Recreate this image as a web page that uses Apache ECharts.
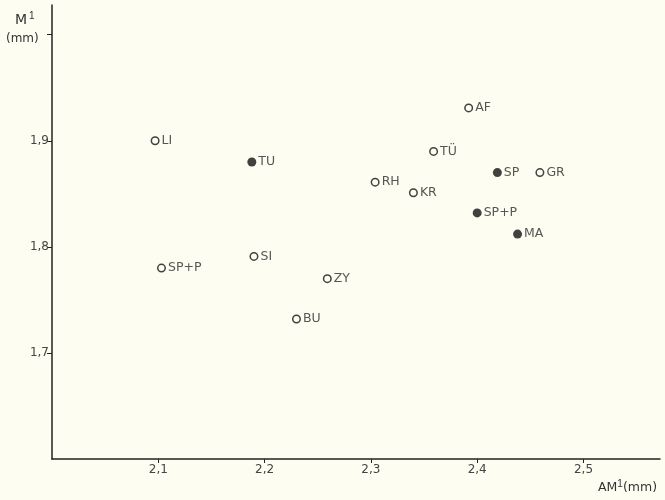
<!DOCTYPE html>
<html><head><meta charset="utf-8">
<script src="https://cdn.jsdelivr.net/npm/echarts@6/dist/echarts.min.js"></script>
<style>html,body{margin:0;padding:0;background:#fdfdf2;}#c{width:665px;height:500px;}</style>
</head><body><div id="c"></div>
<script>
const names = ['AF','LI','TU','TÜ','RH','SP','GR','KR','SP+P','MA','SI','SP+P','ZY','BU'];
const am1 = [2.392,2.097,2.188,2.359,2.304,2.419,2.459,2.340,2.400,2.438,2.190,2.103,2.259,2.230];
const m1  = [1.931,1.900,1.880,1.890,1.861,1.870,1.870,1.851,1.832,1.812,1.791,1.780,1.770,1.732];
const filled = [0,0,1,0,0,1,0,0,1,1,0,0,0,0];
const xTicks = [2.1,2.2,2.3,2.4,2.5];
const yTicks = [1.7,1.8,1.9];
const yTickMarks = [1.7,1.8,1.9,2.0];

const openData = [], fillData = [];
names.forEach((n,i)=>{ (filled[i]?fillData:openData).push({name:n, value:[am1[i], m1[i]]}); });

const labelStyle = {show:true, position:'right', distance:2, formatter:'{b}', color:'#2a2a2a', fontSize:12.5, fontFamily:'DejaVu Sans'};
const fmtv = (v)=> v.toFixed(1).replace('.',',');

const chart = echarts.init(document.getElementById('c'));
chart.setOption({
  backgroundColor:'#fdfdf2',
  animation:false,
  grid:{left:52, right:5, top:5, bottom:41},
  xAxis:{type:'value', min:2.0, max:2.572, interval:0.1,
    axisLine:{lineStyle:{color:'#222', width:1.5}},
    axisTick:{show:true, length:4, lineStyle:{color:'#222'}, customValues:xTicks},
    axisLabel:{formatter:fmtv, customValues:xTicks, color:'#444', fontSize:12, fontFamily:'DejaVu Sans', margin:5},
    splitLine:{show:false}},
  yAxis:{type:'value', min:1.6, max:2.028, interval:0.1,
    axisLine:{show:true, lineStyle:{color:'#222', width:1.5}},
    axisTick:{show:true, length:5, lineStyle:{color:'#222'}, customValues:yTickMarks},
    axisLabel:{formatter:fmtv, customValues:yTicks, color:'#444', fontSize:12, fontFamily:'DejaVu Sans', margin:3},
    splitLine:{show:false}},
  series:[
    {type:'scatter', data:openData, symbol:'circle', symbolSize:7.5,
     itemStyle:{color:'#fdfdf2', borderColor:'#111', borderWidth:1.5}, label:labelStyle},
    {type:'scatter', data:fillData, symbol:'circle', symbolSize:9,
     itemStyle:{color:'#111'}, label:labelStyle}
  ],
  graphic:[
    {type:'text', left:15, top:11, style:{text:'M{s|1}', rich:{s:{fontSize:10, padding:[0,0,8,2]}}, fill:'#333', fontSize:14, fontFamily:'DejaVu Sans'}},
    {type:'text', left:6, top:33, style:{text:'(mm)', fill:'#333', fontSize:12, fontFamily:'DejaVu Sans'}},
    {type:'text', left:598, top:479, style:{text:'AM{s|1}(mm)', rich:{s:{fontSize:10, padding:[0,0,8,0]}}, fill:'#333', fontSize:12.5, fontFamily:'DejaVu Sans'}}
  ]
});
</script></body></html>
